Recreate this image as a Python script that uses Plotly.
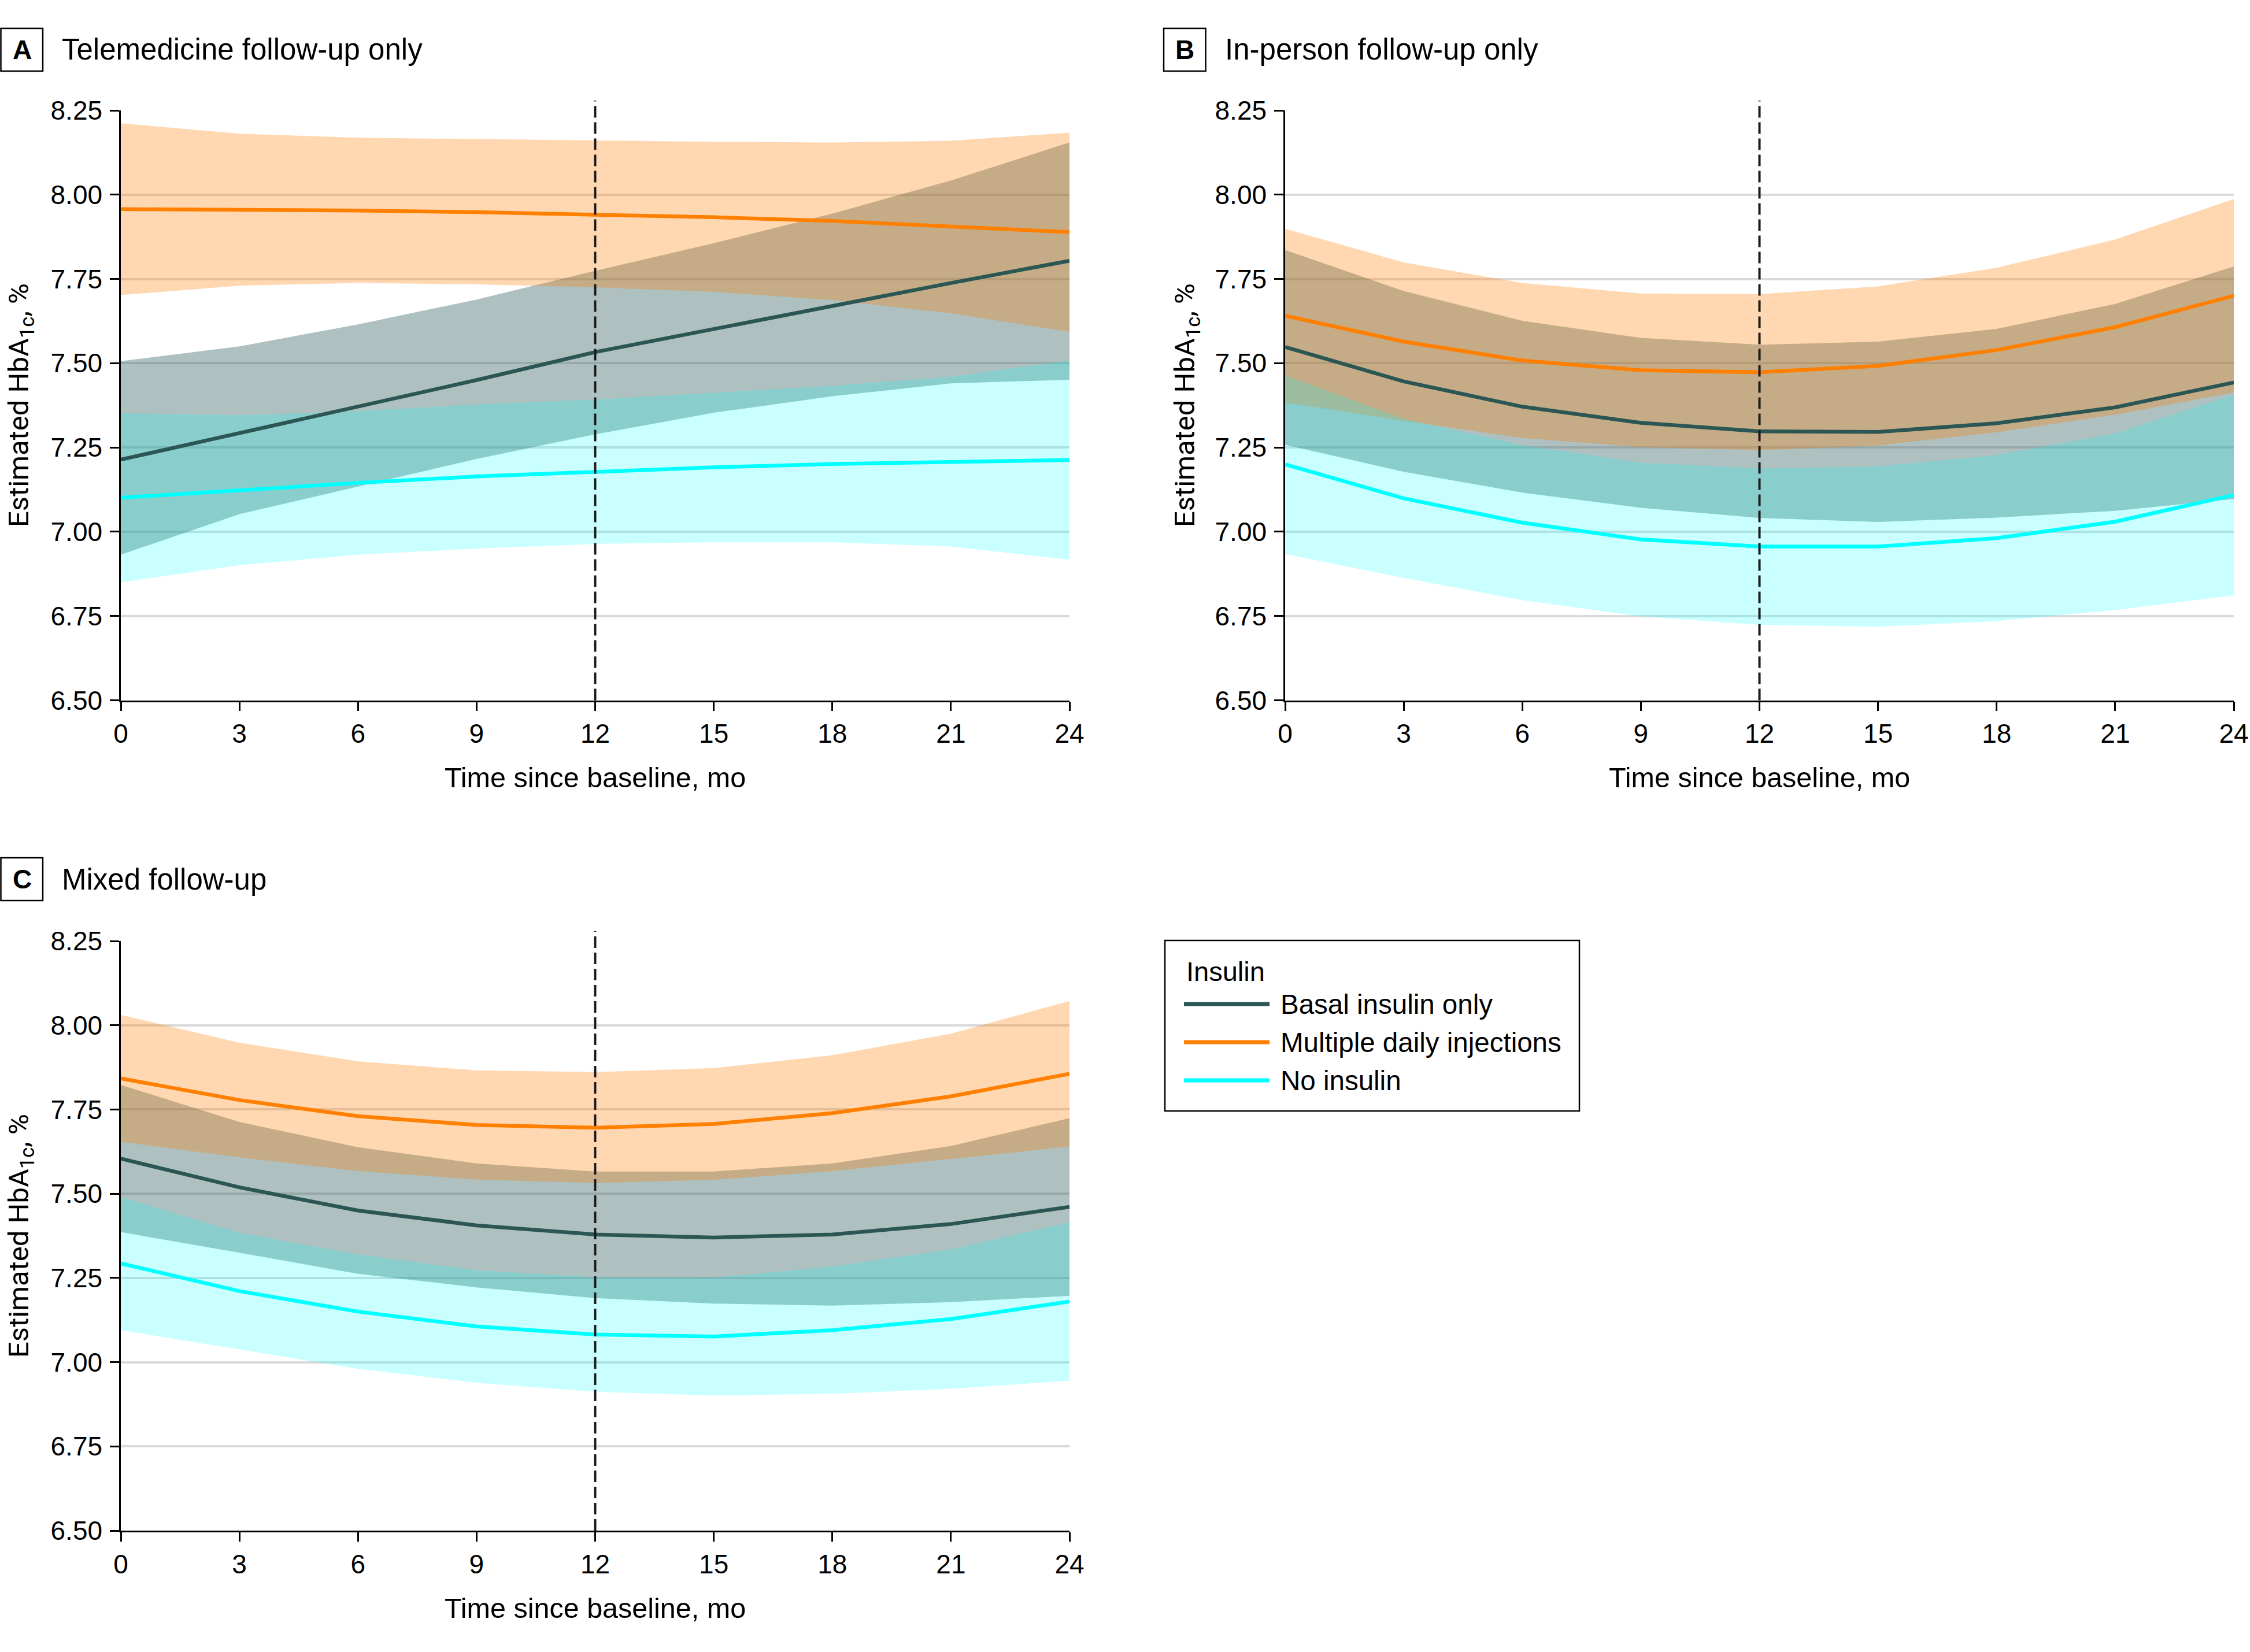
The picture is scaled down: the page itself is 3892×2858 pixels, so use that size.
import plotly.graph_objects as go

W, H = 3892, 2858

MONTHS = [0, 3, 6, 9, 12, 15, 18, 21, 24]
Y_TICKS = [6.50, 6.75, 7.00, 7.25, 7.50, 7.75, 8.00, 8.25]
Y_TICK_TEXT = ["6.50", "6.75", "7.00", "7.25", "7.50", "7.75", "8.00", "8.25"]
SPLIT_MONTH = 12

SERIES_NAMES = ["Basal insulin only", "Multiple daily injections", "No insulin"]
LEGEND_TITLE = "Insulin"

# Panel A: Telemedicine follow-up only
A_BASAL = [7.214, 7.292, 7.370, 7.450, 7.533, 7.602, 7.669, 7.738, 7.804]
A_BASAL_LO = [6.932, 7.052, 7.134, 7.216, 7.289, 7.353, 7.402, 7.440, 7.451]
A_BASAL_HI = [7.506, 7.550, 7.615, 7.689, 7.774, 7.856, 7.944, 8.042, 8.155]
A_MDI = [7.957, 7.956, 7.953, 7.948, 7.941, 7.933, 7.922, 7.905, 7.889]
A_MDI_LO = [7.702, 7.730, 7.738, 7.734, 7.725, 7.712, 7.687, 7.648, 7.593]
A_MDI_HI = [8.212, 8.181, 8.169, 8.165, 8.160, 8.157, 8.155, 8.160, 8.184]
A_NONE = [7.101, 7.123, 7.145, 7.164, 7.178, 7.191, 7.201, 7.208, 7.213]
A_NONE_LO = [6.850, 6.901, 6.932, 6.950, 6.964, 6.969, 6.969, 6.956, 6.917]
A_NONE_HI = [7.352, 7.346, 7.358, 7.378, 7.392, 7.413, 7.433, 7.460, 7.508]

# Panel B: In-person follow-up only
B_BASAL = [7.548, 7.446, 7.371, 7.323, 7.298, 7.296, 7.322, 7.369, 7.443]
B_BASAL_LO = [7.258, 7.178, 7.116, 7.071, 7.041, 7.029, 7.042, 7.062, 7.097]
B_BASAL_HI = [7.836, 7.714, 7.626, 7.575, 7.555, 7.564, 7.602, 7.676, 7.787]
B_MDI = [7.641, 7.564, 7.508, 7.479, 7.473, 7.492, 7.539, 7.607, 7.700]
B_MDI_LO = [7.383, 7.329, 7.278, 7.251, 7.242, 7.256, 7.295, 7.347, 7.413]
B_MDI_HI = [7.899, 7.799, 7.738, 7.707, 7.705, 7.728, 7.783, 7.867, 7.987]
B_NONE = [7.200, 7.099, 7.027, 6.977, 6.956, 6.956, 6.981, 7.030, 7.109]
B_NONE_LO = [6.934, 6.863, 6.797, 6.749, 6.724, 6.718, 6.735, 6.768, 6.811]
B_NONE_HI = [7.464, 7.335, 7.257, 7.205, 7.188, 7.194, 7.227, 7.292, 7.407]

# Panel C: Mixed follow-up
C_BASAL = [7.604, 7.519, 7.450, 7.406, 7.379, 7.370, 7.379, 7.410, 7.461]
C_BASAL_LO = [7.386, 7.325, 7.262, 7.222, 7.190, 7.174, 7.168, 7.178, 7.197]
C_BASAL_HI = [7.823, 7.713, 7.638, 7.590, 7.566, 7.566, 7.590, 7.642, 7.724]
C_MDI = [7.842, 7.778, 7.730, 7.704, 7.696, 7.707, 7.739, 7.789, 7.856]
C_MDI_LO = [7.654, 7.608, 7.567, 7.542, 7.532, 7.541, 7.567, 7.603, 7.640]
C_MDI_HI = [8.031, 7.948, 7.893, 7.866, 7.861, 7.873, 7.911, 7.975, 8.072]
C_NONE = [7.293, 7.211, 7.150, 7.106, 7.082, 7.076, 7.095, 7.128, 7.180]
C_NONE_LO = [7.095, 7.038, 6.980, 6.939, 6.912, 6.901, 6.906, 6.921, 6.945]
C_NONE_HI = [7.491, 7.384, 7.320, 7.273, 7.252, 7.251, 7.284, 7.335, 7.415]

PANEL_LETTERS = ["A", "B", "C"]
PANEL_TITLES = ["Telemedicine follow-up only", "In-person follow-up only", "Mixed follow-up"]
X_TITLE = "Time since baseline, mo"
Y_TITLE = "Estimated HbA<sub>1c</sub>, %"

LINE_COLORS = ["#2B5654", "#FF7F00", "#00FFFF"]
FILL_COLORS = ["rgba(47,95,94,0.39)", "rgba(255,127,0,0.30)", "rgba(0,255,255,0.21)"]

FONT = "Liberation Sans, Arial, sans-serif"
YFONT = "Roboto, Liberation Sans, Arial, sans-serif"


def px_x(p):
    return p / W


def px_y(p):
    return 1 - p / H


panels = [
    dict(ax="", data=[(A_BASAL, A_BASAL_LO, A_BASAL_HI), (A_MDI, A_MDI_LO, A_MDI_HI), (A_NONE, A_NONE_LO, A_NONE_HI)],
         xd=[px_x(209), px_x(1850)], yd=[px_y(1211.5), px_y(191)]),
    dict(ax="2", data=[(B_BASAL, B_BASAL_LO, B_BASAL_HI), (B_MDI, B_MDI_LO, B_MDI_HI), (B_NONE, B_NONE_LO, B_NONE_HI)],
         xd=[px_x(2223), px_x(3864)], yd=[px_y(1211.5), px_y(191)]),
    dict(ax="3", data=[(C_BASAL, C_BASAL_LO, C_BASAL_HI), (C_MDI, C_MDI_LO, C_MDI_HI), (C_NONE, C_NONE_LO, C_NONE_HI)],
         xd=[px_x(209), px_x(1850)], yd=[px_y(2648), px_y(1628)]),
]

fig = go.Figure()

for p in panels:
    xa = "x" + p["ax"]
    ya = "y" + p["ax"]
    for i, (line, lo, hi) in enumerate(p["data"]):
        fig.add_trace(go.Scatter(
            x=MONTHS + MONTHS[::-1], y=hi + lo[::-1], fill="toself",
            fillcolor=FILL_COLORS[i], line=dict(width=0), mode="lines",
            hoverinfo="skip", showlegend=False, xaxis=xa, yaxis=ya))
    for i, (line, lo, hi) in enumerate(p["data"]):
        fig.add_trace(go.Scatter(
            x=MONTHS, y=line, mode="lines", name=SERIES_NAMES[i],
            line=dict(color=LINE_COLORS[i], width=6.5),
            showlegend=False, xaxis=xa, yaxis=ya))

layout = dict(
    template="none",
    width=W, height=H, autosize=False,
    margin=dict(l=0, r=0, t=0, b=0, pad=0, autoexpand=False),
    paper_bgcolor="white", plot_bgcolor="white",
    font=dict(family=FONT, size=46, color="black"),
    showlegend=False,
)

axis_common_x = dict(
    range=[0, 24], tickvals=MONTHS, ticktext=[str(m) for m in MONTHS],
    showgrid=False, zeroline=False, showline=True, linecolor="black", linewidth=2.5,
    ticks="outside", ticklen=16, tickwidth=2.5, tickcolor="black", automargin=False,
    tickfont=dict(family=FONT, size=46, color="black"),
)
axis_common_y = dict(
    range=[6.5, 8.25], tickvals=Y_TICKS, ticktext=Y_TICK_TEXT,
    showgrid=True, gridcolor="#DADADA", gridwidth=4, zeroline=False,
    showline=True, linecolor="black", linewidth=2.5, automargin=False,
    ticks="outside", ticklen=16, tickwidth=2.5, tickcolor="black",
    tickfont=dict(family=FONT, size=46, color="black"), ticklabelstandoff=4,
)

for p in panels:
    xk = "xaxis" + p["ax"]
    yk = "yaxis" + p["ax"]
    layout[xk] = dict(axis_common_x, domain=p["xd"], anchor="y" + p["ax"])
    layout[yk] = dict(axis_common_y, domain=p["yd"], anchor="x" + p["ax"])

fig.update_layout(**layout)

shapes = []
annotations = []

for p in panels:
    shapes.append(dict(type="line", xref="x" + p["ax"], yref="y" + p["ax"] + " domain",
                       x0=SPLIT_MONTH, x1=SPLIT_MONTH, y0=0, y1=1.0167,
                       line=dict(color="#1A1A1A", width=4, dash="20px,8px"), layer="above"))

title_pos = [(1.5, 86, 105), (2013, 86, 2117), (1.5, 1521, 105)]
for letter, title, (bx, cy, tx) in zip(PANEL_LETTERS, PANEL_TITLES, title_pos):
    shapes.append(dict(type="rect", xref="paper", yref="paper",
                       x0=px_x(bx), x1=px_x(bx + 72.5), y0=px_y(cy + 37), y1=px_y(cy - 37),
                       line=dict(color="black", width=2.5), fillcolor="rgba(0,0,0,0)"))
    annotations.append(dict(text=letter, xref="paper", yref="paper",
                            x=px_x(bx + 36.5), y=px_y(cy), xanchor="center", yanchor="middle",
                            showarrow=False,
                            font=dict(family=FONT, size=46, color="black", weight="bold")))
    annotations.append(dict(text=title, xref="paper", yref="paper",
                            x=px_x(tx), y=px_y(cy), xanchor="left", yanchor="middle",
                            showarrow=False, font=dict(family=FONT, size=51, color="black")))

xt_pos = [((209 + 1850) / 2, 1345), ((2223 + 3864) / 2, 1345), ((209 + 1850) / 2, 2782)]
for (cx, cy) in xt_pos:
    annotations.append(dict(text=X_TITLE, xref="paper", yref="paper",
                            x=px_x(cx), y=px_y(cy), xanchor="center", yanchor="middle",
                            showarrow=False, font=dict(family=FONT, size=48.5, color="black")))
yt_pos = [(35, 701), (2052, 701), (35, 2138)]
for (cx, cy) in yt_pos:
    annotations.append(dict(text=Y_TITLE, xref="paper", yref="paper", textangle=-90,
                            x=px_x(cx), y=px_y(cy), xanchor="center", yanchor="middle",
                            showarrow=False, font=dict(family=YFONT, size=49, color="black")))

shapes.append(dict(type="rect", xref="paper", yref="paper",
                   x0=px_x(2015), x1=px_x(2732), y0=px_y(1922), y1=px_y(1627),
                   line=dict(color="black", width=2.5), fillcolor="white"))
annotations.append(dict(text=LEGEND_TITLE, xref="paper", yref="paper",
                        x=px_x(2050), y=px_y(1680), xanchor="left", yanchor="middle",
                        showarrow=False, font=dict(family=FONT, size=47, color="black")))
for i, (name, yy) in enumerate(zip(SERIES_NAMES, [1737, 1803, 1869])):
    shapes.append(dict(type="line", xref="paper", yref="paper",
                       x0=px_x(2048), x1=px_x(2196), y0=px_y(yy), y1=px_y(yy),
                       line=dict(color=LINE_COLORS[i], width=7)))
    annotations.append(dict(text=name, xref="paper", yref="paper",
                            x=px_x(2213), y=px_y(yy), xanchor="left", yanchor="middle",
                            showarrow=False, font=dict(family=FONT, size=47.5, color="black")))

fig.update_layout(shapes=shapes, annotations=annotations)

fig.write_html(
    "out.html",
    config={"displayModeBar": False},
    post_script="document.body.style.margin='0';document.body.style.overflow='hidden';",
)
